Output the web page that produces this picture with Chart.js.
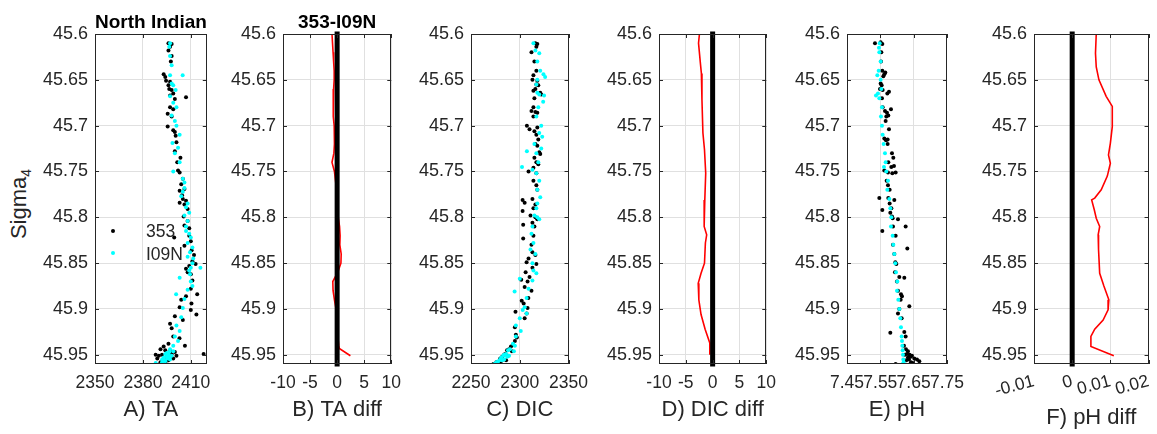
<!DOCTYPE html>
<html><head><meta charset="utf-8">
<script src="https://cdn.jsdelivr.net/npm/chart.js@4.4.1/dist/chart.umd.min.js"></script>
<style>
body{margin:0;width:1157px;height:434px;background:#fff;overflow:hidden;position:relative;font-family:"Liberation Sans",Arial,sans-serif}
canvas{position:absolute;top:0}
#ylab{position:absolute;left:20px;top:204px;transform:translate(-50%,-50%) rotate(-90deg);font-size:22px;color:#262626;white-space:nowrap;line-height:1}
#ylab sub{font-size:14px;vertical-align:-5px}
</style></head><body>
<div id="ylab">Sigma<sub>4</sub></div>
<script>
// ---------- DATA ----------
const sigmaRange = [45.6, 45.96];
const sigmaTicks = [45.6, 45.65, 45.7, 45.75, 45.8, 45.85, 45.9, 45.95];
const seriesNames = ['353', 'I09N'];
const xTitles = ['A) TA', 'B) TA diff', 'C) DIC', 'D) DIC diff', 'E) pH', 'F) pH diff'];
const topTitles = ['North Indian', '353-I09N'];
const xRanges = [[2350,2420],[-10,10],[2250,2350],[-10,10],[7.45,7.75],[-0.01,0.02]];
const xTicks = [[2350,2380,2410],[-10,-5,0,5,10],[2250,2300,2350],[-10,-5,0,5,10],[7.45,7.55,7.65,7.75],[-0.01,0,0.01,0.02]];

// [sigma, TA] cruise 353
const ta353 = [[45.610,2396],[45.611,2398],[45.614,2397],[45.618,2396],[45.624,2398],[45.630,2397.5],[45.644,2393],[45.647,2394],[45.651,2394.5],[45.652,2397],[45.656,2396],[45.660,2396.5],[45.661,2398],[45.665,2399],[45.667,2397],[45.669,2407],[45.671,2400],[45.680,2397],[45.682,2399],[45.687,2395.5],[45.690,2398],[45.701,2395.5],[45.705,2399],[45.707,2400],[45.711,2400.5],[45.718,2401],[45.728,2400],[45.735,2403.5],[45.740,2401.5],[45.749,2402],[45.751,2403],[45.758,2405],[45.764,2404],[45.769,2406],[45.771,2403],[45.776,2404.5],[45.780,2405],[45.782,2407],[45.784,2403],[45.786,2406],[45.791,2408],[45.799,2405.5],[45.804,2408],[45.809,2406],[45.812,2409],[45.822,2399.6],[45.820,2409],[45.826,2410],[45.831,2406],[45.836,2410.5],[45.841,2412],[45.848,2411],[45.851,2413],[45.853,2409],[45.856,2407],[45.860,2408],[45.862,2410],[45.869,2411],[45.878,2410],[45.884,2414],[45.886,2407],[45.890,2404],[45.894,2410.4],[45.898,2403],[45.901,2410],[45.906,2413.5],[45.908,2400],[45.912,2405],[45.916,2397],[45.921,2398],[45.930,2399],[45.932,2402.9],[45.938,2396],[45.940,2406.3],[45.941,2393],[45.944,2391],[45.945,2394],[45.946,2397],[45.947,2400],[45.949,2418],[45.950,2388],[45.951,2390],[45.950,2392],[45.952,2395],[45.949,2398],[45.951,2401],[45.954,2389],[45.955,2393],[45.956,2396],[45.954,2399],[45.958,2391],[45.958,2394],[45.957,2392.5],[45.953,2397]];
// [sigma, TA] cruise I09N
const taI09N = [[45.610,2397],[45.614,2396.5],[45.624,2397],[45.634,2398],[45.645,2397],[45.645,2404.9],[45.654,2398],[45.656,2399],[45.661,2400.5],[45.668,2397],[45.675,2399],[45.680,2401],[45.689,2398],[45.695,2400],[45.700,2401],[45.710,2403],[45.719,2398.5],[45.724,2402],[45.730,2400],[45.740,2403],[45.750,2399],[45.758,2405],[45.762,2406],[45.768,2406],[45.772,2405],[45.777,2404],[45.785,2408],[45.789,2407],[45.795,2409],[45.798,2406],[45.804,2408],[45.810,2407],[45.815,2407],[45.818,2409],[45.822,2410],[45.828,2408],[45.833,2411],[45.838,2409.5],[45.843,2408],[45.845,2411.5],[45.850,2411],[45.855,2416],[45.855,2410],[45.858,2409],[45.862,2409.5],[45.866,2403],[45.870,2410],[45.875,2411],[45.879,2408],[45.884,2400.8],[45.889,2406],[45.899,2405],[45.909,2404],[45.918,2401],[45.924,2403],[45.930,2400],[45.935,2402],[45.940,2399],[45.944,2397],[45.946,2399],[45.947,2396.5],[45.948,2395],[45.949,2394],[45.950,2396],[45.951,2398],[45.952,2395],[45.952,2397],[45.953,2393],[45.954,2395.5],[45.955,2392],[45.955,2397],[45.956,2393.5],[45.957,2394],[45.958,2392],[45.959,2388]];

// [sigma, DIC] cruise 353
const dic353 = [[45.610,2316],[45.611,2318],[45.614,2317],[45.620,2312],[45.630,2315],[45.640,2317],[45.645,2314],[45.650,2313],[45.651,2318],[45.655,2317],[45.656,2319],[45.660,2316],[45.662,2314],[45.664,2321],[45.666,2322],[45.670,2315],[45.680,2314],[45.684,2312],[45.685,2316],[45.686,2318],[45.690,2314],[45.700,2307.3],[45.702,2318],[45.704,2310],[45.706,2315],[45.710,2317],[45.715,2319],[45.720,2316],[45.722,2318],[45.729,2320],[45.731,2321],[45.735,2315],[45.740,2317],[45.742,2319],[45.746,2314],[45.750,2309],[45.752,2317],[45.760,2314],[45.765,2317],[45.770,2318],[45.781,2302.9],[45.780,2313],[45.784,2305],[45.786,2316],[45.790,2314],[45.793,2302.9],[45.798,2311],[45.800,2316],[45.802,2318],[45.806,2313],[45.808,2303.5],[45.810,2315],[45.823,2303.5],[45.820,2314],[45.830,2312],[45.838,2313],[45.841,2316],[45.845,2309],[45.849,2307],[45.851,2317],[45.855,2313],[45.860,2306],[45.865,2310],[45.868,2301.5],[45.870,2308],[45.876,2305],[45.880,2312],[45.888,2308.8],[45.891,2302],[45.894,2304],[45.899,2308],[45.903,2295.6],[45.905,2307],[45.910,2305],[45.920,2295],[45.928,2296],[45.931,2297],[45.935,2295],[45.939,2293],[45.941,2291],[45.944,2289],[45.945,2287],[45.946,2292],[45.949,2285],[45.950,2284],[45.951,2288],[45.952,2282],[45.954,2280],[45.955,2283],[45.956,2286],[45.958,2276],[45.959,2279],[45.960,2281],[45.960,2273]];
// [sigma, DIC] cruise I09N
const dicI09N = [[45.610,2314],[45.618,2316],[45.621,2320],[45.630,2318],[45.640,2321],[45.644,2324.3],[45.647,2326],[45.650,2318],[45.655,2317],[45.664,2318],[45.666,2320],[45.667,2324.9],[45.674,2324],[45.680,2319],[45.690,2317],[45.700,2322],[45.708,2320],[45.712,2323],[45.720,2315],[45.725,2322],[45.728,2307.3],[45.730,2317],[45.740,2319],[45.745,2302.3],[45.748,2313],[45.752,2317],[45.760,2320],[45.770,2318],[45.778,2321],[45.785,2318],[45.790,2317],[45.798,2315],[45.800,2318],[45.802,2320],[45.810,2313],[45.818,2312],[45.828,2314],[45.835,2311],[45.840,2316],[45.850,2313],[45.858,2314],[45.861,2317],[45.867,2300],[45.869,2313],[45.878,2309],[45.881,2294.7],[45.888,2307],[45.898,2305],[45.901,2303],[45.905,2307],[45.910,2300],[45.918,2296],[45.924,2301],[45.930,2296],[45.938,2293],[45.940,2295],[45.944,2290],[45.945,2288],[45.946,2294],[45.949,2286],[45.950,2284],[45.951,2289],[45.951,2283],[45.952,2287],[45.953,2281],[45.955,2280],[45.955,2284],[45.956,2282],[45.957,2278],[45.958,2276],[45.960,2274]];

// [sigma, pH] cruise 353
const ph353 = [[45.610,7.534],[45.609,7.551],[45.611,7.556],[45.620,7.553],[45.630,7.552],[45.640,7.556],[45.642,7.565],[45.644,7.562],[45.646,7.559],[45.654,7.551],[45.656,7.554],[45.660,7.549],[45.661,7.557],[45.663,7.576],[45.665,7.571],[45.670,7.555],[45.680,7.557],[45.682,7.582],[45.684,7.564],[45.686,7.570],[45.689,7.574],[45.690,7.568],[45.695,7.566],[45.704,7.576],[45.715,7.572],[45.714,7.562],[45.716,7.567],[45.720,7.572],[45.730,7.585],[45.735,7.589],[45.740,7.574],[45.744,7.591],[45.745,7.583],[45.749,7.562],[45.751,7.596],[45.751,7.573],[45.752,7.586],[45.760,7.569],[45.765,7.573],[45.770,7.578],[45.779,7.547],[45.779,7.574],[45.781,7.592],[45.785,7.578],[45.790,7.583],[45.792,7.556],[45.795,7.580],[45.799,7.585],[45.801,7.587],[45.802,7.603],[45.810,7.626],[45.810,7.588],[45.815,7.556],[45.820,7.596],[45.830,7.588],[45.834,7.631],[45.840,7.592],[45.849,7.595],[45.851,7.598],[45.860,7.594],[45.865,7.607],[45.866,7.622],[45.870,7.600],[45.880,7.603],[45.884,7.612],[45.886,7.615],[45.890,7.611],[45.897,7.637],[45.900,7.607],[45.905,7.603],[45.910,7.614],[45.926,7.580],[45.925,7.622],[45.930,7.626],[45.940,7.621],[45.944,7.627],[45.946,7.633],[45.949,7.630],[45.950,7.638],[45.951,7.645],[45.950,7.624],[45.953,7.633],[45.952,7.641],[45.954,7.652],[45.955,7.636],[45.956,7.628],[45.955,7.660],[45.958,7.642],[45.957,7.667],[45.960,7.596],[45.959,7.647]];
// [sigma, pH] cruise I09N
const phI09N = [[45.610,7.548],[45.615,7.546],[45.620,7.547],[45.630,7.551],[45.640,7.545],[45.645,7.541],[45.650,7.551],[45.660,7.553],[45.665,7.543],[45.667,7.537],[45.670,7.547],[45.680,7.555],[45.690,7.552],[45.700,7.555],[45.710,7.557],[45.720,7.560],[45.730,7.564],[45.740,7.566],[45.745,7.561],[45.750,7.568],[45.760,7.573],[45.770,7.571],[45.780,7.577],[45.790,7.580],[45.800,7.583],[45.810,7.582],[45.820,7.587],[45.830,7.589],[45.840,7.592],[45.850,7.595],[45.860,7.597],[45.870,7.601],[45.880,7.600],[45.890,7.604],[45.900,7.607],[45.910,7.610],[45.920,7.612],[45.930,7.614],[45.935,7.615],[45.940,7.616],[45.945,7.617],[45.950,7.618],[45.955,7.619],[45.958,7.620],[45.960,7.618]];

// [sigma, difference] 353 - I09N
const taDiff = [[45.600,-0.95],[45.610,-0.85],[45.620,-0.75],[45.630,-0.65],[45.640,-0.55],[45.650,-0.55],[45.660,-0.65],[45.670,-0.75],[45.680,-0.75],[45.690,-0.65],[45.700,-0.55],[45.710,-0.5],[45.720,-0.5],[45.730,-0.6],[45.740,-0.95],[45.750,-0.5],[45.760,-0.3],[45.770,-0.1],[45.780,0.0],[45.790,0.1],[45.800,0.2],[45.810,0.45],[45.820,0.55],[45.830,0.5],[45.840,0.75],[45.850,0.7],[45.860,0.1],[45.870,-0.8],[45.880,-0.75],[45.890,-0.5],[45.900,-0.2],[45.910,0.0],[45.920,0.1],[45.930,0.15],[45.940,0.3],[45.943,0.4],[45.951,2.45]];
const dicDiff = [[45.600,-2.46],[45.610,-2.63],[45.632,-2.28],[45.643,-2.1],[45.672,-1.99],[45.708,-1.81],[45.726,-1.52],[45.752,-1.29],[45.781,-1.46],[45.810,-1.58],[45.819,-1.11],[45.828,-1.35],[45.850,-1.52],[45.861,-2.16],[45.872,-2.69],[45.890,-2.57],[45.906,-2.16],[45.922,-1.4],[45.937,-0.53],[45.950,-0.53]];
const phDiff = [[45.600,0.0063],[45.621,0.0061],[45.636,0.0063],[45.650,0.0070],[45.668,0.0089],[45.679,0.0105],[45.701,0.0105],[45.719,0.0100],[45.732,0.0095],[45.741,0.0100],[45.755,0.0092],[45.770,0.0076],[45.779,0.0059],[45.781,0.0051],[45.792,0.0058],[45.801,0.0063],[45.810,0.0072],[45.819,0.0068],[45.835,0.0069],[45.861,0.0072],[45.875,0.0083],[45.890,0.0096],[45.901,0.0094],[45.912,0.0081],[45.922,0.0059],[45.930,0.0049],[45.941,0.0049],[45.951,0.0109]];

// ---------- LAYOUT ----------
const PLOT_TOP = 34, PLOT_BOTTOM = 364, YAXIS_W = 70, RPAD = 12;
const plotX = [[95,209],[283,398],[471,585],[659,773],[847,961],[1034,1149]];
const FONT = '"Liberation Sans", Arial, Helvetica, sans-serif';
const TXT = '#262626';
Chart.defaults.font.family = FONT;

const framePlugin = {
  id: 'frame',
  afterDraw(chart, args, o) {
    const {ctx, chartArea: a, scales: {x, y}} = chart;
    ctx.save();
    ctx.strokeStyle = '#262626'; ctx.lineWidth = 1;
    ctx.strokeRect(Math.round(a.left) + 0.5, Math.round(a.top) + 0.5, Math.round(a.right - a.left) - 1, Math.round(a.bottom - a.top) - 1);
    ctx.beginPath();
    y.ticks.forEach(t => {
      const p = Math.round(y.getPixelForValue(t.value)) + 0.5;
      ctx.moveTo(a.left, p); ctx.lineTo(a.left + 4, p);
      ctx.moveTo(a.right, p); ctx.lineTo(a.right - 4, p);
    });
    x.ticks.forEach(t => {
      const p = Math.round(x.getPixelForValue(t.value)) + 0.5;
      ctx.moveTo(p, a.top); ctx.lineTo(p, a.top + 4);
      ctx.moveTo(p, a.bottom); ctx.lineTo(p, a.bottom - 4);
    });
    ctx.stroke();
    if (o.title) {
      ctx.font = 'bold 19px ' + FONT; ctx.fillStyle = '#000';
      ctx.textAlign = 'center'; ctx.textBaseline = 'middle';
      ctx.fillText(o.title, (a.left + a.right) / 2, 23);
    }
    if (o.legend) {
      ctx.font = '17.5px ' + FONT; ctx.textAlign = 'left'; ctx.textBaseline = 'middle';
      chart.data.datasets.filter(d => d.label).sort((p, q) => p.legendIndex - q.legendIndex).forEach((d, i) => {
        const yy = a.top + 197 + i * 22;
        ctx.fillStyle = d.backgroundColor;
        ctx.beginPath(); ctx.arc(a.left + 18, yy, 2, 0, Math.PI * 2); ctx.fill();
        ctx.fillStyle = TXT;
        ctx.fillText(d.label, a.left + 51, yy + 1.5 + i);
      });
    }
    ctx.restore();
  }
};

function makePanel(i, datasets, extra) {
  const [l, r] = plotX[i];
  const cv = document.createElement('canvas');
  const w = (r - l) + YAXIS_W + RPAD;
  cv.width = w; cv.height = 434;
  cv.style.left = (l - YAXIS_W) + 'px';
  cv.style.width = w + 'px'; cv.style.height = '434px';
  document.body.appendChild(cv);
  const rot = extra.rotate || 0;
  new Chart(cv, {
    type: 'scatter',
    data: {datasets},
    plugins: [framePlugin],
    options: {
      responsive: false, animation: false, devicePixelRatio: 1,
      layout: {padding: {top: PLOT_TOP, right: RPAD, left: 0, bottom: 0}},
      plugins: {legend: {display: false}, tooltip: {enabled: false},
        frame: {title: extra.title, legend: extra.legend}},
      scales: {
        x: {
          type: 'linear', min: xRanges[i][0], max: xRanges[i][1],
          afterBuildTicks: s => { s.ticks = xTicks[i].map(v => ({value: v})); },
          afterFit: s => { s.height = 434 - PLOT_BOTTOM; },
          ticks: {autoSkip: false, minRotation: rot, maxRotation: rot, padding: rot ? 7 : 9,
            color: TXT, font: {size: 17.5}, callback: v => String(v)},
          grid: {color: '#e0e0e0', lineWidth: 1, drawTicks: false},
          border: {display: false},
          title: {display: true, text: xTitles[i], color: TXT, font: {size: 22},
            padding: {top: 0, bottom: extra.titlePad}}
        },
        y: {
          type: 'linear', reverse: true, min: sigmaRange[0], max: sigmaRange[1],
          afterBuildTicks: s => { s.ticks = sigmaTicks.map(v => ({value: v})); },
          afterFit: s => { s.width = YAXIS_W; },
          ticks: {autoSkip: false, padding: 7, color: TXT, font: {size: 18}, callback: v => String(v)},
          grid: {color: '#e0e0e0', lineWidth: 1, drawTicks: false},
          border: {display: false}
        }
      }
    }
  });
}

function scatterSets(k, c) {
  return [
    {label: seriesNames[1], legendIndex: 1, order: 0, data: c.map(([s, v]) => ({x: v, y: s})),
      backgroundColor: '#00ffff', borderWidth: 0, pointRadius: 2, pointHoverRadius: 2},
    {label: seriesNames[0], legendIndex: 0, order: 1, data: k.map(([s, v]) => ({x: v, y: s})),
      backgroundColor: '#000000', borderWidth: 0, pointRadius: 2, pointHoverRadius: 2}
  ];
}
function diffSets(d) {
  return [
    {order: 0, data: sigmaRange.map(s => ({x: 0, y: s})), showLine: true, borderColor: '#000',
      borderWidth: 5, borderCapStyle: 'square', pointRadius: 0, clip: false},
    {order: 1, data: d.map(([s, v]) => ({x: v, y: s})), showLine: true, borderColor: '#ff0000',
      borderWidth: 1.6, pointRadius: 0, tension: 0}
  ];
}

makePanel(0, scatterSets(ta353, taI09N), {title: topTitles[0], legend: true, titlePad: 11});
makePanel(1, diffSets(taDiff), {title: topTitles[1], titlePad: 11});
makePanel(2, scatterSets(dic353, dicI09N), {titlePad: 11});
makePanel(3, diffSets(dicDiff), {titlePad: 11});
makePanel(4, scatterSets(ph353, phI09N), {titlePad: 11});
makePanel(5, diffSets(phDiff), {titlePad: 3, rotate: 15});
</script>
</body></html>
